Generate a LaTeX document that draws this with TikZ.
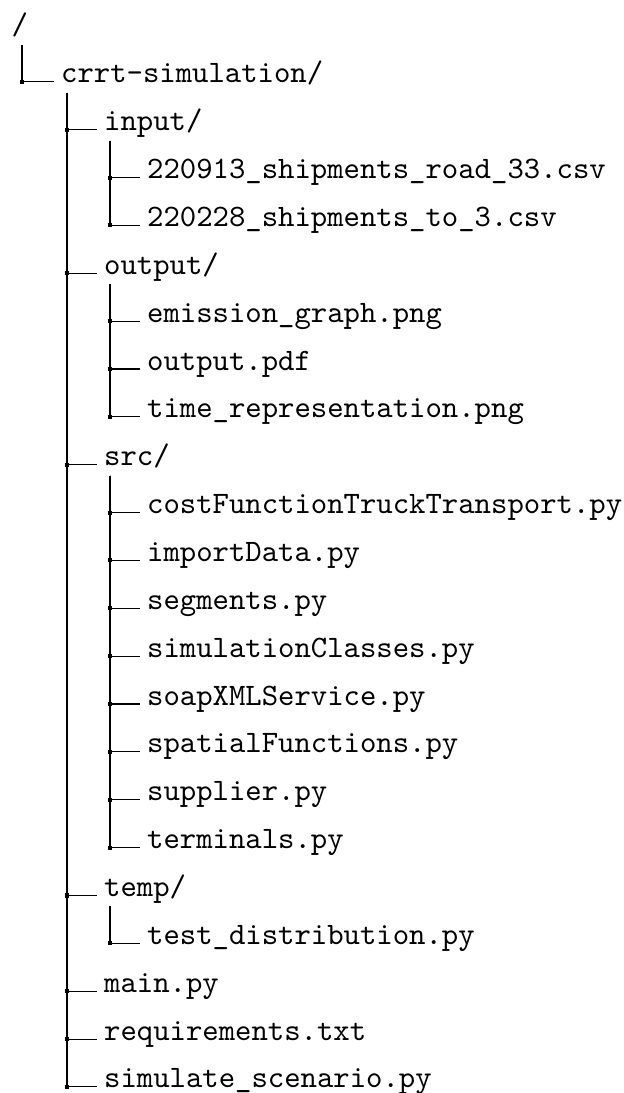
\documentclass[tikz,border=0pt]{standalone}
\usepackage{fontspec}
\usetikzlibrary{calc}
\begin{document}
\begin{tikzpicture}[x=0.3205pt,y=-0.3205pt,
  entry/.style={anchor=base west, inner sep=0pt, font=\ttfamily\fontsize{10}{12}\selectfont},
  branch/.style={line width=0.35pt, black},
  knot/.style={rectangle, fill=black, inner sep=0pt, minimum size=1.3pt}]
\useasboundingbox (0,0) rectangle (624,1093);

% directory entries, one row each (rows 47.86 units apart)
\node[entry] (root)  at (11,35)       {/};
\node[entry] (crrt)  at (60.5,82.86)  {crrt-simulation/};
\node[entry] (input) at (103.5,130.72) {input/};
\node[entry] (in1)   at (146.5,178.58) {220913\_shipments\_road\_33.csv};
\node[entry] (in2)   at (146.5,226.44) {220228\_shipments\_to\_3.csv};
\node[entry] (output) at (103.5,274.3) {output/};
\node[entry] (out1)  at (146.5,322.16) {emission\_graph.png};
\node[entry] (out2)  at (146.5,370.02) {output.pdf};
\node[entry] (out3)  at (146.5,417.88) {time\_representation.png};
\node[entry] (src)   at (103.5,465.74) {src/};
\node[entry] (s1)    at (146.5,513.6)  {costFunctionTruckTransport.py};
\node[entry] (s2)    at (146.5,561.46) {importData.py};
\node[entry] (s3)    at (146.5,609.32) {segments.py};
\node[entry] (s4)    at (146.5,657.18) {simulationClasses.py};
\node[entry] (s5)    at (146.5,705.04) {soapXMLService.py};
\node[entry] (s6)    at (146.5,752.9)  {spatialFunctions.py};
\node[entry] (s7)    at (146.5,800.76) {supplier.py};
\node[entry] (s8)    at (146.5,848.62) {terminals.py};
\node[entry] (temp)  at (103.5,896.48) {temp/};
\node[entry] (t1)    at (146.5,944.34) {test\_distribution.py};
\node[entry] (mainpy) at (103.5,992.2) {main.py};
\node[entry] (req)   at (103.5,1040.06) {requirements.txt};
\node[entry] (sim)   at (103.5,1087.92) {simulate\_scenario.py};

% root branch
\draw[branch] ($(root.base west)+(11,10)$) |- ($(crrt.base west)+(-7,-1)$)
  node[pos=0.5, knot] {};

% branches from each folder to its children
\foreach \parent/\child in {crrt/input, crrt/output, crrt/src, crrt/temp, crrt/mainpy, crrt/req, crrt/sim,
    input/in1, input/in2,
    output/out1, output/out2, output/out3,
    src/s1, src/s2, src/s3, src/s4, src/s5, src/s6, src/s7, src/s8,
    temp/t1}
  \draw[branch] ($(\parent.base west)+(6.5,10)$) |- ($(\child.base west)+(-6.5,-1)$)
    node[pos=0.5, knot] {};
\end{tikzpicture}
\end{document}
